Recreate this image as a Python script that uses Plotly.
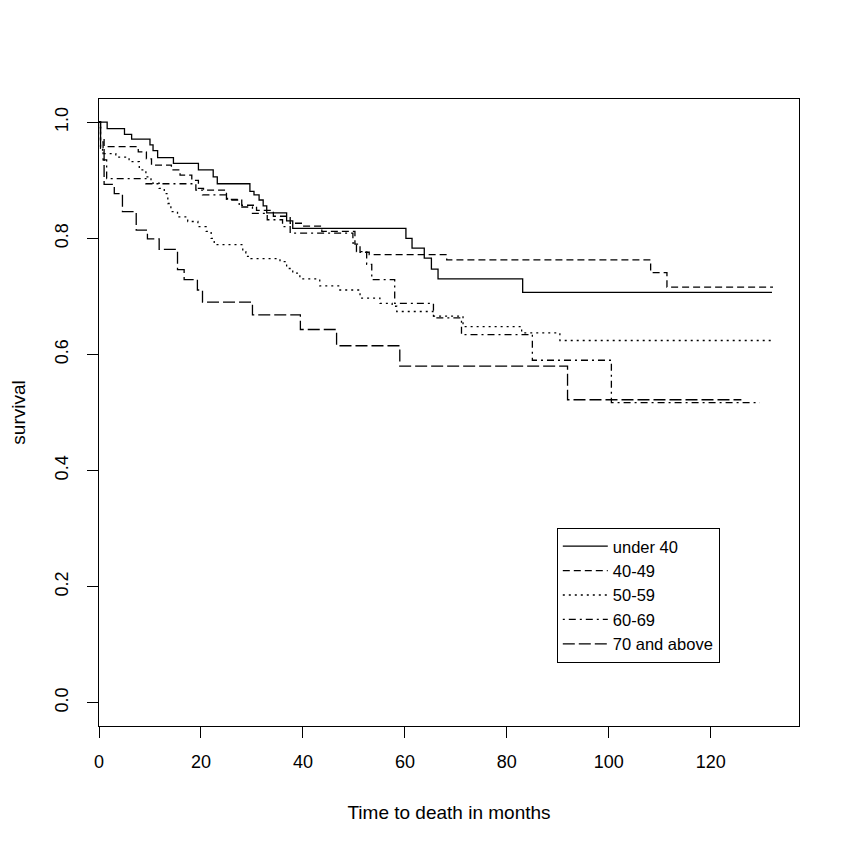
import plotly.graph_objects as go

# ---- data ----
group_names = ["under 40", "40-49", "50-59", "60-69", "70 and above"]

t_under40 = [0, 1.6, 5.0, 6.4, 10.0, 10.6, 11.5, 14.6, 19.5, 22.4, 23.2, 29.6, 30.4, 31.4,
             32.2, 32.9, 36.8, 38.0, 60.2, 61.4, 63.8, 65.2, 66.5, 83.1, 132.0]
s_under40 = [1.0, 0.989, 0.979, 0.971, 0.961, 0.951, 0.939, 0.929, 0.918, 0.906, 0.894, 0.881,
             0.875, 0.866, 0.856, 0.844, 0.830, 0.817, 0.800, 0.783, 0.766, 0.747, 0.730, 0.707, 0.707]

t_40_49 = [0, 0.3, 1.0, 7.7, 9.3, 10.3, 14.2, 15.9, 18.2, 19.5, 20.5, 25.0, 28.0, 30.9, 34.2,
           37.5, 40.0, 43.7, 50.2, 51.2, 53.0, 68.2, 108.2, 111.4, 132.2]
s_40_49 = [1.0, 0.972, 0.958, 0.949, 0.937, 0.926, 0.918, 0.909, 0.900, 0.886, 0.883, 0.867,
           0.857, 0.848, 0.838, 0.826, 0.821, 0.812, 0.790, 0.776, 0.772, 0.763, 0.741, 0.716, 0.716]

t_50_59 = [0, 0.3, 0.7, 3.3, 5.9, 7.9, 9.2, 10.2, 11.8, 12.8, 13.5, 14.1, 15.4, 17.4, 19.4,
           21.0, 22.0, 22.6, 28.2, 28.8, 29.8, 35.5, 36.8, 38.0, 39.4, 43.3, 47.0, 51.2, 55.1,
           57.5, 58.4, 65.5, 71.4, 82.9, 90.4, 132.2]
s_50_59 = [1.0, 0.958, 0.946, 0.940, 0.932, 0.918, 0.906, 0.895, 0.886, 0.877, 0.860, 0.846,
           0.837, 0.829, 0.820, 0.812, 0.800, 0.789, 0.777, 0.769, 0.765, 0.760, 0.748, 0.740,
           0.730, 0.718, 0.711, 0.697, 0.688, 0.683, 0.674, 0.666, 0.648, 0.637, 0.624, 0.624]

t_60_69 = [0, 0.3, 0.8, 1.5, 9.2, 19.0, 20.3, 25.2, 27.5, 30.1, 33.0, 36.0, 37.5, 49.8, 50.5,
           52.5, 53.5, 58.0, 65.6, 71.1, 85.0, 100.5, 129.6]
s_60_69 = [1.0, 0.966, 0.935, 0.903, 0.894, 0.883, 0.875, 0.866, 0.854, 0.843, 0.832, 0.820,
           0.809, 0.792, 0.777, 0.755, 0.729, 0.688, 0.663, 0.634, 0.590, 0.517, 0.517]

t_70plus = [0, 0.3, 1.0, 3.0, 4.6, 7.3, 9.5, 11.8, 15.4, 16.7, 19.3, 20.3, 30.1, 39.5, 46.6,
            59.0, 91.9, 126.0]
s_70plus = [1.0, 0.955, 0.893, 0.877, 0.846, 0.814, 0.799, 0.781, 0.746, 0.729, 0.711, 0.690,
            0.668, 0.643, 0.615, 0.580, 0.522, 0.522]

x_ticks = [0, 20, 40, 60, 80, 100, 120]
y_ticks = [0.0, 0.2, 0.4, 0.6, 0.8, 1.0]
y_tick_labels = ["0.0", "0.2", "0.4", "0.6", "0.8", "1.0"]

times = [t_under40, t_40_49, t_50_59, t_60_69, t_70plus]
survs = [s_under40, s_40_49, s_50_59, s_60_69, s_70plus]
dashes = ["solid", "7px,4px", "2px,4px", "2px,4px,7px,4px", "12px,4px"]

fig = go.Figure()
for name, t, s, d in zip(group_names, times, survs, dashes):
    fig.add_trace(go.Scatter(
        x=t, y=s, mode="lines", name=name,
        line=dict(color="black", width=1.3, dash=d, shape="hv"),
    ))

font_family = "Liberation Sans, Arial, Helvetica, sans-serif"

fig.update_layout(
    width=842, height=842,
    margin=dict(l=91, r=51, t=91, b=124, autoexpand=False),
    paper_bgcolor="white", plot_bgcolor="white",
    font=dict(family=font_family, size=18, color="black"),
    showlegend=True,
    legend=dict(
        x=0.654, y=0.316, xanchor="left", yanchor="top",
        bgcolor="white", bordercolor="black", borderwidth=1,
        font=dict(family=font_family, size=16.5, color="black"),
        tracegroupgap=0, itemwidth=45,
    ),
)

fig.update_xaxes(
    range=[0, 137.3],
    tickmode="array", tickvals=x_ticks,
    ticks="outside", ticklen=11, tickwidth=1.2, tickcolor="black",
    showline=True, linecolor="black", linewidth=1.3, mirror=True,
    showgrid=False, zeroline=False,
    tickfont=dict(size=18),
    ticklabelstandoff=8,
    title=dict(text="Time to death in months", font=dict(size=19), standoff=34),
)
fig.update_yaxes(
    range=[-0.04, 1.04],
    tickmode="array", tickvals=y_ticks, ticktext=y_tick_labels,
    tickangle=-90,
    ticks="outside", ticklen=11, tickwidth=1.2, tickcolor="black",
    showline=True, linecolor="black", linewidth=1.3, mirror=True,
    showgrid=False, zeroline=False,
    tickfont=dict(size=18),
    ticklabelstandoff=12,
    title=dict(text="survival", font=dict(size=19), standoff=26),
)

fig.write_html("out.html")
